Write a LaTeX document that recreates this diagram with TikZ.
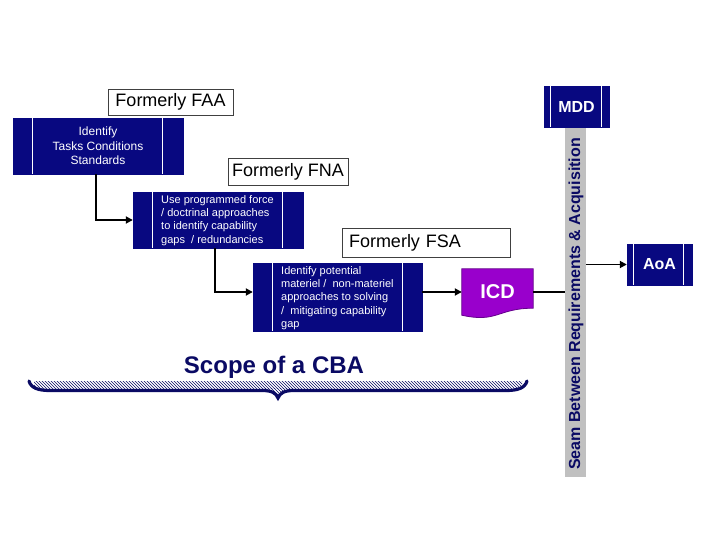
\documentclass[tikz,border=0pt]{standalone}
\usepackage{fontspec}
\setmainfont{Liberation Sans}
\usetikzlibrary{arrows.meta,patterns}
\definecolor{navy}{RGB}{8,8,128}
\definecolor{darknavy}{RGB}{10,10,100}
\definecolor{seamgray}{RGB}{192,192,192}
\definecolor{icdpurple}{RGB}{153,0,204}
\definecolor{icdborder}{RGB}{100,0,140}
\begin{document}
\begin{tikzpicture}[x=1pt,y=-1pt,
  bluebox/.style={fill=navy, draw=navy, inner sep=0pt},
  divider/.style={draw=white, line width=0.9pt},
  boxtext/.style={text=white, inner sep=0pt},
  labelbox/.style={draw=black!75, fill=white, line width=0.8pt, inner sep=0pt, font=\fontsize{18}{21}\selectfont},
  conn/.style={draw=black, line width=1.8pt},
  arrow/.style={conn, -{Triangle[length=7pt,width=7pt]}},
]
\useasboundingbox (0,0) rectangle (720,540);

% FAA
\node[labelbox, minimum width=125pt, minimum height=26pt] (faalabel) at (170.5,102) {Formerly FAA};
\node[bluebox, minimum width=170pt, minimum height=56pt] (faa) at (98,146) {};
\draw[divider] ([xshift=20pt]faa.north west) -- ([xshift=20pt]faa.south west);
\draw[divider] ([xshift=-21pt]faa.north east) -- ([xshift=-21pt]faa.south east);
\node[boxtext, align=center, font=\fontsize{12}{14.4}\selectfont] (faatext) at (98,146) {Identify\\Tasks Conditions\\Standards};

% FNA
\node[labelbox, minimum width=120pt, minimum height=27pt] (fnalabel) at (288,171.5) {Formerly FNA};
\node[bluebox, minimum width=170pt, minimum height=56pt] (fna) at (218,220) {};
\draw[divider] ([xshift=20pt]fna.north west) -- ([xshift=20pt]fna.south west);
\draw[divider] ([xshift=-21pt]fna.north east) -- ([xshift=-21pt]fna.south east);
\node[boxtext, anchor=west, align=left, font=\fontsize{11}{13.2}\selectfont] (fnatext) at (161,220.5) {Use programmed force\\/ doctrinal approaches\\to identify capability\\gaps~ / redundancies};

% FSA
\node[labelbox, minimum width=168pt, minimum height=29pt, text width=154pt, inner xsep=7pt, align=left] (fsalabel) at (426,242.5) {Formerly FSA};
\node[bluebox, minimum width=169pt, minimum height=68pt] (fsa) at (337.5,297) {};
\draw[divider] ([xshift=20pt]fsa.north west) -- ([xshift=20pt]fsa.south west);
\draw[divider] ([xshift=-20pt]fsa.north east) -- ([xshift=-20pt]fsa.south east);
\node[boxtext, anchor=west, align=left, font=\fontsize{11}{13.4}\selectfont] (fsatext) at (281,298) {Identify potential\\materiel /~ non-materiel\\approaches to solving\\/~ mitigating capability\\gap};

% ICD
\node[minimum width=71pt, minimum height=46pt, inner sep=0pt] (icd) at (497.5,292) {};
\draw[fill=icdpurple, draw=icdborder, line width=0.8pt]
  (icd.north west) -- (icd.north east) -- ([yshift=7pt]icd.south east)
  .. controls ([yshift=7pt]icd.south) and ([yshift=-8pt]icd.south) .. (icd.south west) -- cycle;
\node[boxtext, font=\fontsize{20}{24}\selectfont\bfseries] (icdtext) at (497.5,291.5) {ICD};

% MDD
\node[bluebox, minimum width=65pt, minimum height=41pt] (mdd) at (576.5,106.5) {};
\draw[divider] ([xshift=7pt]mdd.north west) -- ([xshift=7pt]mdd.south west);
\draw[divider] ([xshift=-8pt]mdd.north east) -- ([xshift=-8pt]mdd.south east);
\node[boxtext, font=\fontsize{16}{19}\selectfont\bfseries] (mddtext) at (576.5,106.5) {MDD};

% Seam
\node[fill=seamgray, minimum width=21pt, minimum height=349pt, inner sep=0pt] (seam) at (575.5,302.5) {};
\node[rotate=90, text=darknavy, inner sep=0pt, font=\fontsize{16}{19}\selectfont\bfseries] (seamtext) at (576,304) {Seam Between Requirements \& Acquisition};

% AoA
\node[bluebox, minimum width=65pt, minimum height=41pt] (aoa) at (659.5,264.5) {};
\draw[divider] ([xshift=7pt]aoa.north west) -- ([xshift=7pt]aoa.south west);
\draw[divider] ([xshift=-9pt]aoa.north east) -- ([xshift=-9pt]aoa.south east);
\node[boxtext, font=\fontsize{16}{19}\selectfont\bfseries] (aoatext) at (659.5,264.5) {AoA};

% Connectors
\draw[arrow] ([xshift=-2pt]faa.south) |- (fna.west);
\draw[arrow] ([xshift=-3pt]fna.south) |- ([yshift=5pt]fsa.west);
\draw[arrow] ([yshift=5pt]fsa.east) -- (icd.west);
\draw[conn] (icd.east) -- (seam.west |- icd.east);
\draw[arrow] (seam.east |- aoa.west) -- (aoa.west);

% Scope brace
\node[text=darknavy, inner sep=0pt, font=\fontsize{24}{28}\selectfont\bfseries] (scope) at (274,367) {Scope of a CBA};
\fill[pattern=north west lines, pattern color=darknavy] (34,381.5) rectangle (522,388.5);
\fill[pattern=north west lines, pattern color=darknavy] (262,388) -- (278,396) -- (294,388) -- cycle;
\draw[darknavy, line width=3.2pt, line cap=round]
  (29,381) .. controls (31,388) and (38,390.5) .. (50,390.5) -- (262,390.5)
  .. controls (272,390.5) and (276,393) .. (278,398)
  .. controls (280,393) and (284,390.5) .. (294,390.5) -- (506,390.5)
  .. controls (518,390.5) and (525,388) .. (527,381);
\end{tikzpicture}
\end{document}
